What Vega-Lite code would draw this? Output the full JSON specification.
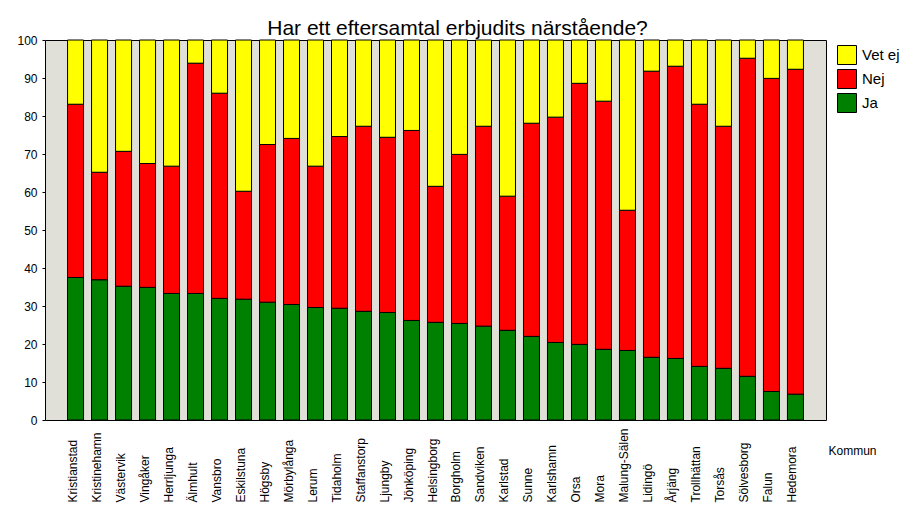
{
  "$schema": "https://vega.github.io/schema/vega-lite/v6.json",
  "width": 781,
  "height": 380,
  "autosize": {"type": "none"},
  "padding": {"left": 45, "top": 40, "right": 92, "bottom": 85},
  "background": "white",
  "title": {
    "text": "Har ett eftersamtal erbjudits närstående?",
    "font": "Liberation Sans",
    "fontSize": 21,
    "fontWeight": "normal",
    "color": "black",
    "anchor": "middle",
    "frame": "group",
    "dx": 22,
    "dy": 30,
    "baseline": "alphabetic",
    "offset": 8
  },
  "data": {
    "values": [
      {"Kommun": "Kristianstad", "Ja": 37.5, "Nej": 45.6, "Vet ej": 16.9},
      {"Kommun": "Kristinehamn", "Ja": 36.9, "Nej": 28.3, "Vet ej": 34.8},
      {"Kommun": "Västervik", "Ja": 35.2, "Nej": 35.5, "Vet ej": 29.3},
      {"Kommun": "Vingåker", "Ja": 34.9, "Nej": 32.6, "Vet ej": 32.5},
      {"Kommun": "Herrljunga", "Ja": 33.3, "Nej": 33.5, "Vet ej": 33.2},
      {"Kommun": "Älmhult", "Ja": 33.3, "Nej": 60.6, "Vet ej": 6.1},
      {"Kommun": "Vansbro", "Ja": 32.0, "Nej": 54.0, "Vet ej": 14.0},
      {"Kommun": "Eskilstuna", "Ja": 31.8, "Nej": 28.4, "Vet ej": 39.8},
      {"Kommun": "Högsby", "Ja": 31.0, "Nej": 41.5, "Vet ej": 27.5},
      {"Kommun": "Mörbylånga", "Ja": 30.4, "Nej": 43.7, "Vet ej": 25.9},
      {"Kommun": "Lerum", "Ja": 29.6, "Nej": 37.2, "Vet ej": 33.2},
      {"Kommun": "Tidaholm", "Ja": 29.4, "Nej": 45.2, "Vet ej": 25.4},
      {"Kommun": "Staffanstorp", "Ja": 28.6, "Nej": 48.7, "Vet ej": 22.7},
      {"Kommun": "Ljungby", "Ja": 28.3, "Nej": 46.1, "Vet ej": 25.6},
      {"Kommun": "Jönköping", "Ja": 26.2, "Nej": 50.0, "Vet ej": 23.8},
      {"Kommun": "Helsingborg", "Ja": 25.7, "Nej": 35.8, "Vet ej": 38.5},
      {"Kommun": "Borgholm", "Ja": 25.4, "Nej": 44.5, "Vet ej": 30.1},
      {"Kommun": "Sandviken", "Ja": 24.7, "Nej": 52.6, "Vet ej": 22.7},
      {"Kommun": "Karlstad", "Ja": 23.6, "Nej": 35.3, "Vet ej": 41.1},
      {"Kommun": "Sunne", "Ja": 22.0, "Nej": 56.1, "Vet ej": 21.9},
      {"Kommun": "Karlshamn", "Ja": 20.4, "Nej": 59.3, "Vet ej": 20.3},
      {"Kommun": "Orsa", "Ja": 19.9, "Nej": 68.7, "Vet ej": 11.4},
      {"Kommun": "Mora", "Ja": 18.6, "Nej": 65.3, "Vet ej": 16.1},
      {"Kommun": "Malung-Sälen", "Ja": 18.3, "Nej": 36.9, "Vet ej": 44.8},
      {"Kommun": "Lidingö", "Ja": 16.5, "Nej": 75.3, "Vet ej": 8.2},
      {"Kommun": "Årjäng", "Ja": 16.2, "Nej": 76.9, "Vet ej": 6.9},
      {"Kommun": "Trollhättan", "Ja": 14.1, "Nej": 69.0, "Vet ej": 16.9},
      {"Kommun": "Torsås", "Ja": 13.6, "Nej": 63.7, "Vet ej": 22.7},
      {"Kommun": "Sölvesborg", "Ja": 11.5, "Nej": 83.7, "Vet ej": 4.8},
      {"Kommun": "Falun", "Ja": 7.5, "Nej": 82.4, "Vet ej": 10.1},
      {"Kommun": "Hedemora", "Ja": 6.8, "Nej": 85.5, "Vet ej": 7.7}
    ]
  },
  "transform": [
    {"fold": ["Ja", "Nej", "Vet ej"], "as": ["Svar", "Andel"]}
  ],
  "mark": {"type": "bar", "stroke": "black", "strokeWidth": 1, "opacity": 1},
  "encoding": {
    "x": {
      "field": "Kommun",
      "type": "nominal",
      "sort": null,
      "scale": {"paddingInner": 0.333, "paddingOuter": 0.94},
      "axis": {
        "title": "Kommun",
        "titleFont": "Liberation Sans",
        "titleFontSize": 12,
        "titleFontWeight": "normal",
        "titleColor": "black",
        "titleAlign": "left",
        "titleBaseline": "middle",
        "titleAnchor": "start",
        "titleX": 783,
        "titleY": 30,
        "ticks": false,
        "domain": false,
        "labelAngle": -90,
        "labelAlign": "left",
        "labelBaseline": "middle",
        "labelPadding": 82,
        "labelOffset": -3,
        "labelFont": "Liberation Sans",
        "labelFontSize": 12,
        "labelColor": "black",
        "labelOverlap": false
      }
    },
    "y": {
      "field": "Andel",
      "type": "quantitative",
      "stack": "zero",
      "scale": {"domain": [0, 100], "nice": false},
      "axis": {
        "title": null,
        "values": [0, 10, 20, 30, 40, 50, 60, 70, 80, 90, 100],
        "grid": false,
        "domain": false,
        "tickSize": 3,
        "tickColor": "black",
        "labelPadding": 5,
        "labelFont": "Liberation Sans",
        "labelFontSize": 12,
        "labelColor": "black"
      }
    },
    "color": {
      "field": "Svar",
      "type": "nominal",
      "scale": {"domain": ["Vet ej", "Nej", "Ja"], "range": ["#FFFF00", "#FF0000", "#008000"]},
      "legend": {
        "title": null,
        "orient": "none",
        "legendX": 792,
        "legendY": 5,
        "symbolType": "square",
        "symbolSize": 361,
        "symbolStrokeColor": "black",
        "symbolStrokeWidth": 1,
        "symbolOpacity": 1,
        "rowPadding": 0,
        "labelFont": "Liberation Sans",
        "labelFontSize": 15,
        "labelColor": "black",
        "labelOffset": 5
      }
    },
    "order": {"field": "Svar", "sort": "ascending"}
  },
  "config": {
    "view": {"fill": "#E0E0D8", "stroke": "black", "strokeWidth": 1}
  }
}
